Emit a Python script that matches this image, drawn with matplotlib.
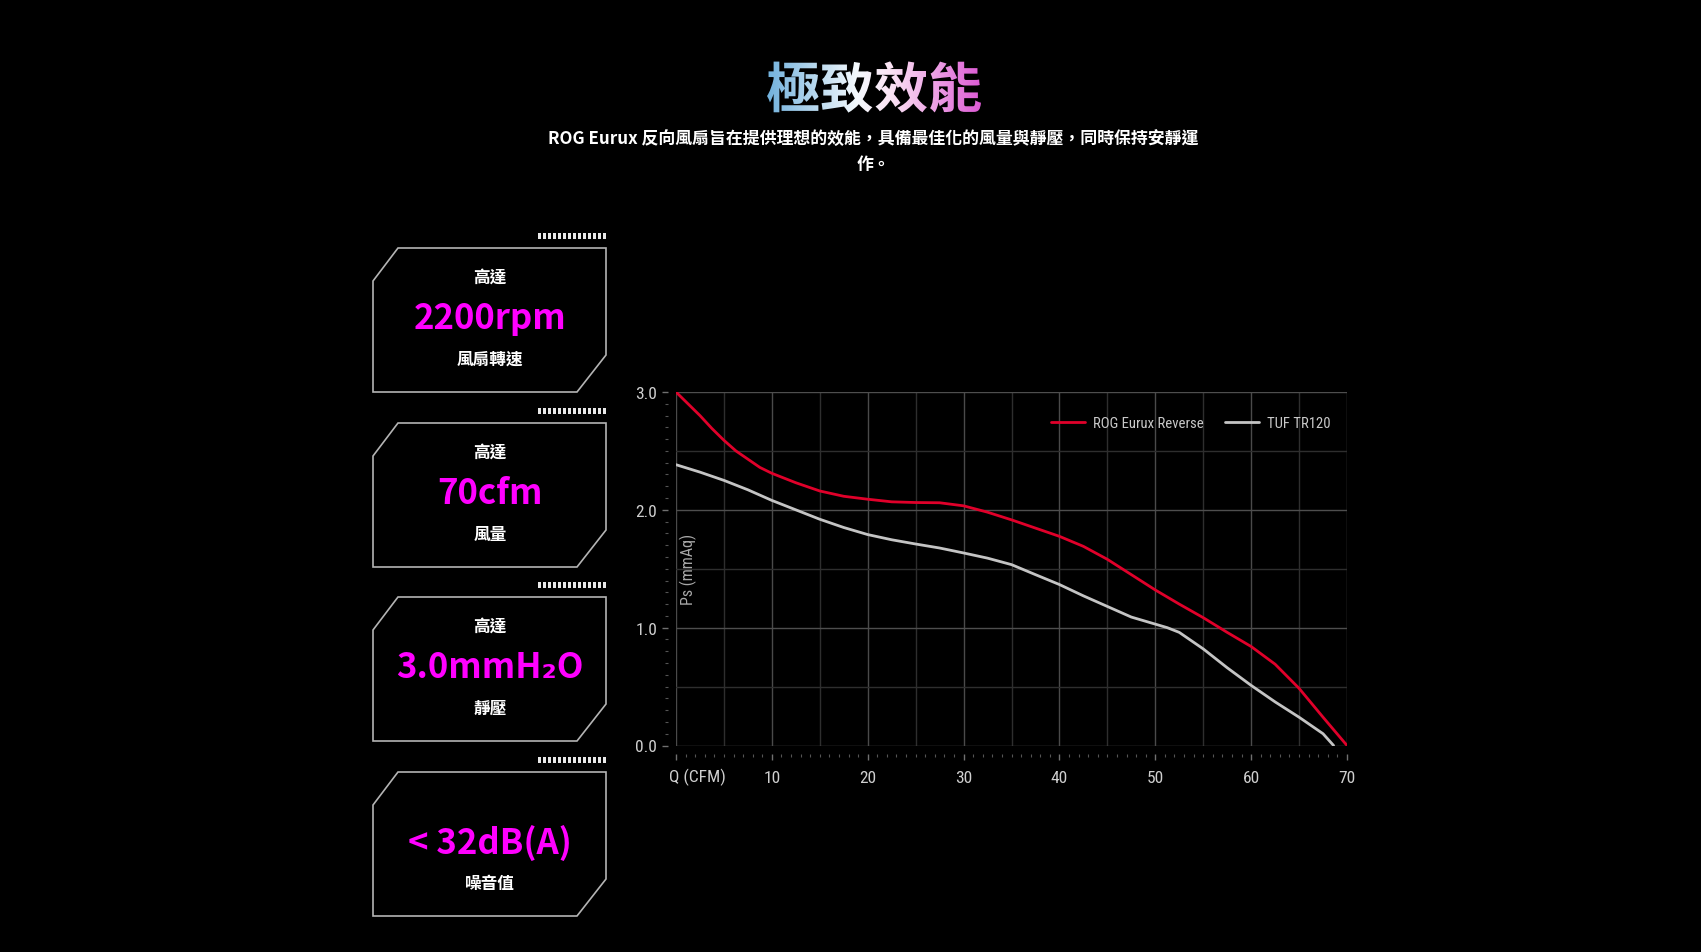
import numpy as np
import matplotlib
matplotlib.use("Agg")
import matplotlib.pyplot as plt
from matplotlib import font_manager
from matplotlib.textpath import TextPath
from matplotlib.font_manager import FontProperties
from matplotlib.patches import PathPatch, Polygon, Rectangle
from matplotlib.colors import LinearSegmentedColormap
import matplotlib.transforms as mtransforms

# ---------------- data ----------------
q_rog = [0, 1.25, 2.5, 3.75, 5, 6.25, 7.5, 8.75, 10, 12.5, 15, 17.5, 20, 22.5, 25, 27.5, 30,
         32.5, 35, 37.5, 40, 42.5, 45, 47.5, 50, 52.5, 55, 57.5, 60, 62.5, 65, 67.5, 70]
ps_rog = [3.00, 2.90, 2.80, 2.69, 2.59, 2.50, 2.43, 2.36, 2.31, 2.23, 2.16, 2.115, 2.09, 2.068,
          2.062, 2.06, 2.034, 1.98, 1.915, 1.845, 1.775, 1.69, 1.58, 1.45, 1.32, 1.20, 1.085,
          0.96, 0.84, 0.69, 0.485, 0.24, 0.0]
q_tuf = [0, 2.5, 5, 7.5, 10, 12.5, 15, 17.5, 20, 22.5, 25, 27.5, 30, 32.5, 35, 37.5, 40,
         42.5, 45, 47.5, 50, 51.25, 52.5, 55, 57.5, 60, 62.5, 65, 67.5, 68.6]
ps_tuf = [2.383, 2.32, 2.25, 2.17, 2.08, 2.00, 1.92, 1.85, 1.79, 1.746, 1.71, 1.676, 1.634,
          1.59, 1.535, 1.45, 1.366, 1.27, 1.18, 1.09, 1.03, 1.0, 0.96, 0.82, 0.66, 0.51, 0.37,
          0.24, 0.10, 0.0]
series_labels = ["ROG Eurux Reverse", "TUF TR120"]
x_tick_values = [10, 20, 30, 40, 50, 60, 70]
y_tick_values = [0, 1, 2, 3]
y_tick_labels = ["0.0", "1.0", "2.0", "3.0"]
x_axis_label = "Q (CFM)"
y_axis_label = "Ps (mmAq)"

title_text = "極致效能"
subtitle_lines = ["ROG Eurux 反向風扇旨在提供理想的效能，具備最佳化的風量與靜壓，同時保持安靜運", "作。"]
card_top_labels = ["高達", "高達", "高達", ""]
card_values = ["2200rpm", "70cfm", "3.0mmH₂O", "< 32dB(A)"]
card_bottom_labels = ["風扇轉速", "風量", "靜壓", "噪音值"]

# ---------------- fonts ----------------
names = {f.name for f in font_manager.fontManager.ttflist}
if "Roboto Condensed" in names:
    num_font = ["Roboto Condensed", "DejaVu Sans"]
elif "Liberation Sans Narrow" in names:
    num_font = ["Liberation Sans Narrow", "DejaVu Sans"]
else:
    num_font = ["Roboto", "DejaVu Sans"]
cjk = ["Noto Sans CJK TC", "DejaVu Sans"]
plt.rcParams["font.family"] = cjk

W, H = 1701, 953
fig = plt.figure(figsize=(W / 100, H / 100), dpi=100, facecolor="black")

# overlay axes in pixel coordinates
ov = fig.add_axes([0, 0, 1, 1], zorder=0)
ov.set_xlim(0, W)
ov.set_ylim(H, 0)
ov.axis("off")
ov.set_facecolor("none")

# ---- gradient title ----
fp = FontProperties(family="Noto Sans CJK TC", weight="bold")
tp = TextPath((0, 0), title_text, size=54, prop=fp)
ext = tp.get_extents()
cx, cy = 874, 88
tr = mtransforms.Affine2D().scale(1, -1).translate(cx - (ext.x0 + ext.x1) / 2, cy + (ext.y0 + ext.y1) / 2)
patch = PathPatch(tp, transform=tr + ov.transData, facecolor="none", edgecolor="none")
ov.add_patch(patch)
cmap = LinearSegmentedColormap.from_list(
    "tg", [(0, "#6fb0dc"), (0.42, "#f4f9fd"), (0.58, "#fbe3f4"), (1.0, "#dc58d4")])
grad = np.linspace(0, 1, 256).reshape(1, -1)
x0 = cx - (ext.x1 - ext.x0) / 2 - 2
x1 = cx + (ext.x1 - ext.x0) / 2 + 2
im = ov.imshow(grad, cmap=cmap, extent=(x0, x1, cy + 40, cy - 40), aspect="auto", interpolation="bilinear")
im.set_clip_path(patch)
ov.set_xlim(0, W)
ov.set_ylim(H, 0)

# ---- subtitle ----
ov.text(873, 139, subtitle_lines[0], ha="center", va="center", color="white",
        fontsize=12.2, fontweight="bold", family=cjk)
ov.text(873, 165, subtitle_lines[1], ha="center", va="center", color="white",
        fontsize=12.2, fontweight="bold", family=cjk)

# ---- cards ----
card_tops = [249, 424, 598, 773]
L, R, CH = 373, 606, 144
for i, T in enumerate(card_tops):
    B = T + CH
    pts = [(L, T + 33), (L + 25, T), (R, T), (R, B - 37), (R - 29, B), (L, B)]
    ov.add_patch(Polygon(pts, closed=True, fill=False, edgecolor="#b4b4b4", linewidth=1.2))
    for k in range(14):
        ov.add_patch(Rectangle((538 + k * 5.0, T - 15), 3.0, 6, facecolor="#e8e8e8", edgecolor="none"))
    cxc = 490
    if card_top_labels[i]:
        ov.text(cxc, T + 29, card_top_labels[i], ha="center", va="center", color="white",
                fontsize=12, fontweight="bold", family=cjk)
    ov.text(cxc, T + 70, card_values[i], ha="center", va="center", color="#ff00ff",
            fontsize=25, fontweight="bold", family=cjk)
    ov.text(cxc, T + 111, card_bottom_labels[i], ha="center", va="center", color="white",
            fontsize=12, fontweight="bold", family=cjk)

# ---------------- chart ----------------
ax = fig.add_axes([676 / W, 1 - 746.5 / H, 671 / W, 353.5 / H], zorder=1)
ax.set_facecolor("none")
ax.set_xlim(0, 70)
ax.set_ylim(0, 3)

for v in np.arange(0, 71, 5):
    major = (v % 10 == 0)
    ax.axvline(v, color="#4a4a4a" if major else "#2e2e2e", lw=1.0, zorder=1)
for v in np.arange(0, 3.01, 0.5):
    major = abs(v - round(v)) < 1e-9
    ax.axhline(v, color="#4e4e4e" if major else "#2e2e2e", lw=1.0, zorder=1)

ax.plot(q_tuf, ps_tuf, color="#c4c4c4", lw=2.0, label=series_labels[1], zorder=3,
        solid_capstyle="round", solid_joinstyle="round")
ax.plot(q_rog, ps_rog, color="#e0002a", lw=2.0, label=series_labels[0], zorder=4,
        solid_capstyle="round", solid_joinstyle="round")

for s in ["top", "right"]:
    ax.spines[s].set_visible(False)
for s in ["bottom", "left"]:
    ax.spines[s].set_position(("outward", 6))
    ax.spines[s].set_visible(False)

ax.set_xticks([0] + x_tick_values)
ax.set_xticklabels([""] + [str(v) for v in x_tick_values])
ax.set_xticks(np.arange(0, 71, 1), minor=True)
ax.set_yticks(y_tick_values)
ax.set_yticklabels(y_tick_labels)
ax.set_yticks(np.arange(0, 3.01, 0.1), minor=True)
ax.tick_params(axis="both", which="major", colors="#707070", length=4, width=1.0,
               labelcolor="#cfcfcf", labelsize=12.5, direction="out")
ax.tick_params(axis="both", which="minor", colors="#555555", length=2, width=0.8, direction="out")
ax.tick_params(axis="x", which="major", pad=7.5)
ax.tick_params(axis="y", which="major", pad=3.5)
for lab in ax.get_xticklabels() + ax.get_yticklabels():
    lab.set_family(num_font)

blend = mtransforms.blended_transform_factory(ax.transData, ax.transAxes)
ax.text(-0.75, -0.086, x_axis_label, transform=blend, ha="left", va="center",
        color="#cfcfcf", fontsize=12.5, family=num_font)
ax.text(12 / 671, (746.5 - 569) / 353.5, y_axis_label, transform=ax.transAxes, rotation=90,
        ha="center", va="center", color="#a8a8a8", fontsize=11.5, family=num_font)

handles, labels = ax.get_legend_handles_labels()
order = [1, 0]
leg = ax.legend([handles[i] for i in order], [labels[i] for i in order],
                loc="center right", bbox_to_anchor=(0.975, 0.912), ncol=2, frameon=False,
                handlelength=2.3, handletextpad=0.5, columnspacing=1.5, borderpad=0,
                borderaxespad=0, prop=FontProperties(family=num_font, size=10.6))
for t in leg.get_texts():
    t.set_color("#c8c8c8")

fig.savefig("out.png", dpi=100, facecolor="black")
